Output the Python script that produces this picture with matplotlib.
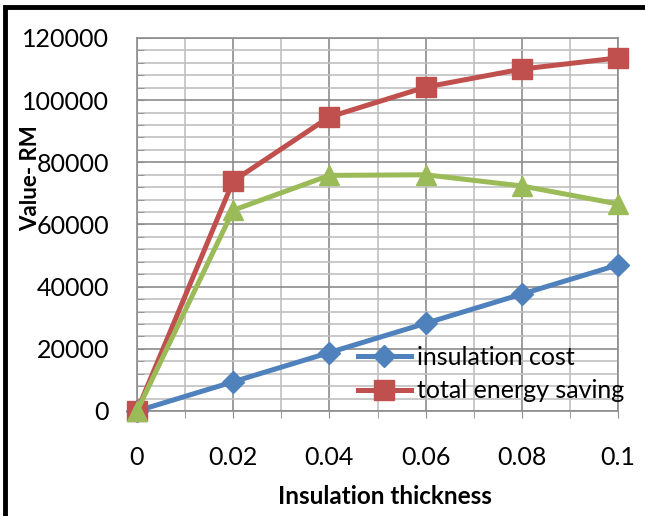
import matplotlib
matplotlib.use('Agg')
import matplotlib.pyplot as plt
from matplotlib.patches import Rectangle
from matplotlib.ticker import MultipleLocator

plt.rcParams['font.family'] = ['Lato', 'DejaVu Sans']

thickness = [0, 0.02, 0.04, 0.06, 0.08, 0.1]
insulationCost = [0, 9400, 18800, 28200, 37600, 47000]
totalSaving = [0, 74000, 94600, 104200, 110000, 113600]
netSaving = [0, 64600, 75800, 76000, 72400, 66600]
xTickLabels = ['0', '0.02', '0.04', '0.06', '0.08', '0.1']

blue = '#4F81BD'
red = '#C0504D'
green = '#9BBB59'

fig = plt.figure(figsize=(6.45, 5.16), dpi=100)
ax = fig.add_axes([137 / 645, 1 - 411 / 516, 481 / 645, 373 / 516])

ax.plot(thickness, insulationCost, color=blue, lw=3.6, marker='D', ms=11.5,
        label='insulation cost', clip_on=False, zorder=3)
ax.plot(thickness, totalSaving, color=red, lw=3.6, marker='s', ms=14,
        label='total energy saving', clip_on=False, zorder=3)
ax.plot(thickness, netSaving, color=green, lw=3.6, marker='^', ms=15,
        clip_on=False, zorder=4)

ax.set_xlim(0, 0.1)
ax.set_ylim(0, 120000)
ax.set_xticks(thickness)
ax.set_xticklabels(xTickLabels)
ax.xaxis.set_minor_locator(MultipleLocator(0.01))
ax.yaxis.set_major_locator(MultipleLocator(20000))
ax.yaxis.set_minor_locator(MultipleLocator(4000))

ax.grid(which='major', color='#8c8c8c', lw=1.2, zorder=0)
ax.grid(which='minor', color='#c0c0c0', lw=1.2, zorder=0)
ax.set_axisbelow(True)
for s in ax.spines.values():
    s.set_color('#8c8c8c')
    s.set_linewidth(1.2)

ax.tick_params(axis='x', which='both', direction='out', length=5, color='#8c8c8c',
               labelsize=18, pad=20)
ax.tick_params(axis='y', which='both', direction='in', length=5, color='#8c8c8c',
               labelsize=18, pad=20)

fig.text(385 / 645, 1 - 497 / 516, 'Insulation thickness', fontsize=17.5,
         fontweight='bold', ha='center', va='center')
fig.text(31 / 645, 1 - 178 / 516, 'Value- RM', fontsize=16, fontweight='bold',
         rotation=90, ha='center', va='center')

leg = ax.legend(loc='upper left', bbox_to_anchor=(358 / 645, 1 - 346 / 516),
                bbox_transform=fig.transFigure, frameon=False, fontsize=18,
                handlelength=2.1, handletextpad=0.25, labelspacing=0.42,
                borderaxespad=0, borderpad=0)

# outer chart frame
fig.patches.append(Rectangle((5 / 645, -0.05), 1.1, 1 - 6.5 / 516 + 0.05,
                             transform=fig.transFigure, fill=False,
                             edgecolor='black', lw=3.5))

fig.savefig('out.png', dpi=100)
